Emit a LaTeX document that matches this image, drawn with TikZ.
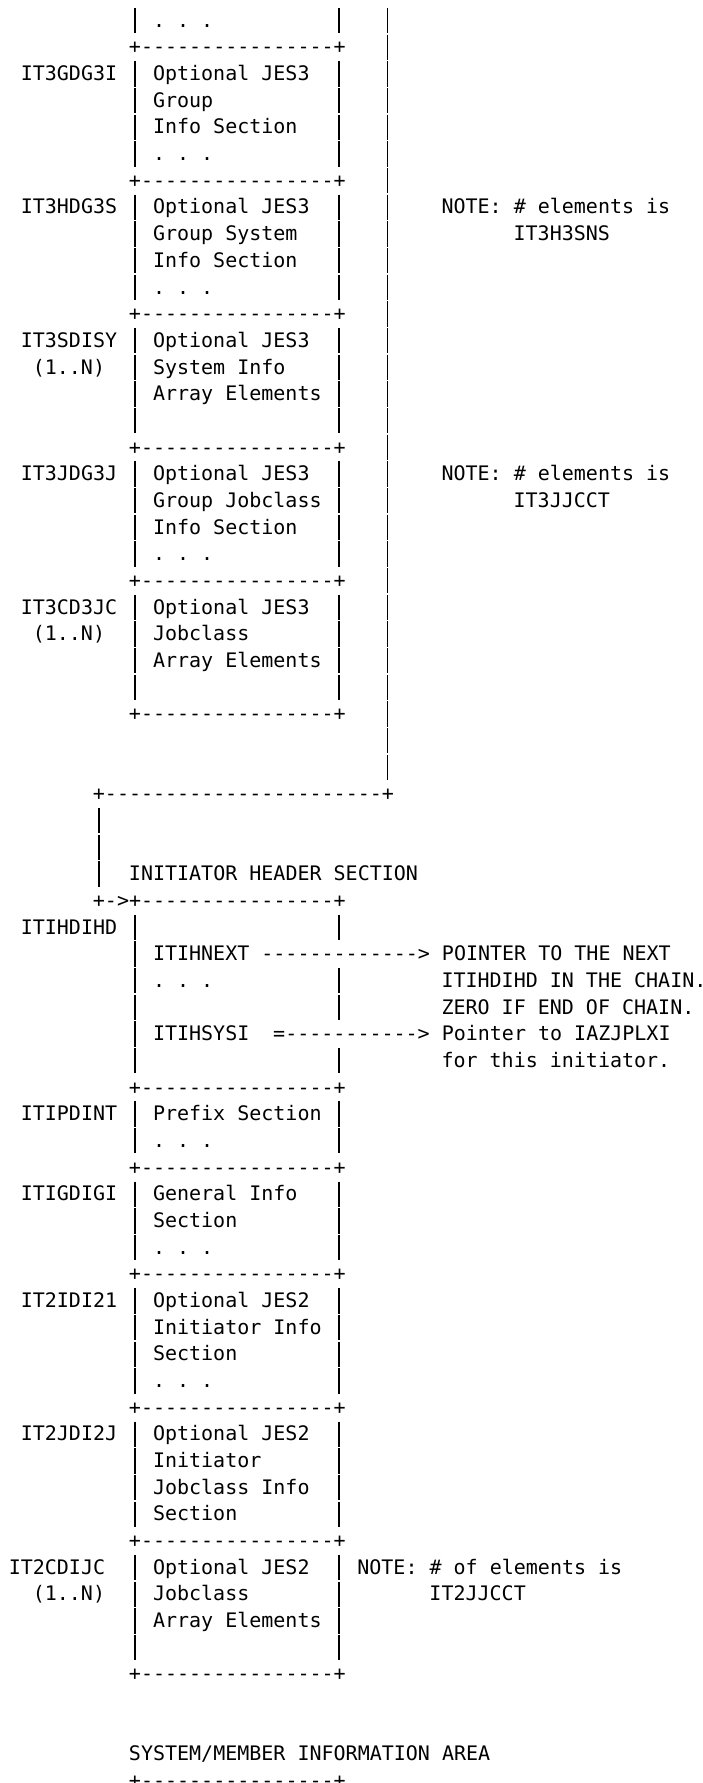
\documentclass[tikz,border=0pt]{standalone}
\usepackage{fontspec}
\setmonofont{DejaVu Sans Mono}
\usepackage{tikz}
\newcommand{\dashrun}[1]{\foreach \k in {1,...,#1}{-}}
\newcommand{\border}{+\dashrun{16}+}

\begin{document}
\begin{tikzpicture}[x=6.01pt,y=-13.335pt,
		txt/.style={anchor=base west,inner sep=0pt,outer sep=0pt,xshift=-3.005pt,yshift=-3.65pt,
			font=\ttfamily\fontsize{10pt}{12pt}\selectfont},
		bar/.style={line width=.85pt},
	]
		\useasboundingbox (-0.2313,-0.75) rectangle (58.172,66.104);

		% upper chain of JES3 sections
		\node[txt] (dots0) at (13,0) {. . .};
		\node[txt] (b1) at (11,1) {\border};
		\node[txt] (it3gdg3i) at (2,2) {IT3GDG3I};
		\node[txt] (g1) at (13,2) {Optional JES3};
		\node[txt] (g2) at (13,3) {Group};
		\node[txt] (g3) at (13,4) {Info Section};
		\node[txt] (g4) at (13,5) {. . .};
		\node[txt] (b6) at (11,6) {\border};
		\node[txt] (it3hdg3s) at (2,7) {IT3HDG3S};
		\node[txt] (h1) at (13,7) {Optional JES3};
		\node[txt] (h2) at (13,8) {Group System};
		\node[txt] (h3) at (13,9) {Info Section};
		\node[txt] (h4) at (13,10) {. . .};
		\node[txt] (hnote) at (37,7) {NOTE: \# elements is};
		\node[txt] (hcnt) at (43,8) {IT3H3SNS};
		\node[txt] (b11) at (11,11) {\border};
		\node[txt] (it3sdisy) at (2,12) {IT3SDISY};
		\node[txt] (sn) at (3,13) {(1..N)};
		\node[txt] (s1) at (13,12) {Optional JES3};
		\node[txt] (s2) at (13,13) {System Info};
		\node[txt] (s3) at (13,14) {Array Elements};
		\node[txt] (b16) at (11,16) {\border};
		\node[txt] (it3jdg3j) at (2,17) {IT3JDG3J};
		\node[txt] (j1) at (13,17) {Optional JES3};
		\node[txt] (j2) at (13,18) {Group Jobclass};
		\node[txt] (j3) at (13,19) {Info Section};
		\node[txt] (j4) at (13,20) {. . .};
		\node[txt] (jnote) at (37,17) {NOTE: \# elements is};
		\node[txt] (jcnt) at (43,18) {IT3JJCCT};
		\node[txt] (b21) at (11,21) {\border};
		\node[txt] (it3cd3jc) at (2,22) {IT3CD3JC};
		\node[txt] (cn) at (3,23) {(1..N)};
		\node[txt] (c1) at (13,22) {Optional JES3};
		\node[txt] (c2) at (13,23) {Jobclass};
		\node[txt] (c3) at (13,24) {Array Elements};
		\node[txt] (b26) at (11,26) {\border};

		% the way back to the initiator header
		\node[txt] (turn) at (8,29) {+\dashrun{23}+};
		\node[txt] (ihs) at (11,32) {INITIATOR HEADER SECTION};
		\node[txt] (b33) at (8,33) {+->\border};

		% initiator sections
		\node[txt] (itihdihd) at (2,34) {ITIHDIHD};
		\node[txt] (next) at (13,35) {ITIHNEXT \dashrun{13}> POINTER TO THE NEXT};
		\node[txt] (i1) at (13,36) {. . .};
		\node[txt] (next2) at (37,36) {ITIHDIHD IN THE CHAIN.};
		\node[txt] (next3) at (37,37) {ZERO IF END OF CHAIN.};
		\node[txt] (sysi) at (13,38) {ITIHSYSI};
		\node[txt] (sysiarr) at (23,38) {=\dashrun{11}> Pointer to IAZJPLXI};
		\node[txt] (sysi2) at (37,39) {for this initiator.};
		\node[txt] (b40) at (11,40) {\border};
		\node[txt] (itipdint) at (2,41) {ITIPDINT};
		\node[txt] (p1) at (13,41) {Prefix Section};
		\node[txt] (p2) at (13,42) {. . .};
		\node[txt] (b43) at (11,43) {\border};
		\node[txt] (itigdigi) at (2,44) {ITIGDIGI};
		\node[txt] (e1) at (13,44) {General Info};
		\node[txt] (e2) at (13,45) {Section};
		\node[txt] (e3) at (13,46) {. . .};
		\node[txt] (b47) at (11,47) {\border};
		\node[txt] (it2idi21) at (2,48) {IT2IDI21};
		\node[txt] (k1) at (13,48) {Optional JES2};
		\node[txt] (k2) at (13,49) {Initiator Info};
		\node[txt] (k3) at (13,50) {Section};
		\node[txt] (k4) at (13,51) {. . .};
		\node[txt] (b52) at (11,52) {\border};
		\node[txt] (it2jdi2j) at (2,53) {IT2JDI2J};
		\node[txt] (l1) at (13,53) {Optional JES2};
		\node[txt] (l2) at (13,54) {Initiator};
		\node[txt] (l3) at (13,55) {Jobclass Info};
		\node[txt] (l4) at (13,56) {Section};
		\node[txt] (b57) at (11,57) {\border};
		\node[txt] (it2cdijc) at (1,58) {IT2CDIJC};
		\node[txt] (mn) at (3,59) {(1..N)};
		\node[txt] (m1) at (13,58) {Optional JES2};
		\node[txt] (m2) at (13,59) {Jobclass};
		\node[txt] (m3) at (13,60) {Array Elements};
		\node[txt] (mnote) at (30,58) {NOTE: \# of elements is};
		\node[txt] (mcnt) at (36,59) {IT2JJCCT};
		\node[txt] (b62) at (11,62) {\border};

		\node[txt] (sysmem) at (11,65) {SYSTEM/MEMBER INFORMATION AREA};
		\node[txt] (b66) at (11,66) {\border};

		% box sides, one stroke per line
		\foreach \r in {0,2,3,4,5,7,8,9,10,12,13,14,15,17,18,19,20,22,23,24,25,
				34,36,37,39,41,42,44,45,46,48,49,50,51,53,54,55,56,58,59,60,61}
			\draw[bar] (11,\r) ++(0,-.45) -- ++(0,.95) (28,\r) ++(0,-.45) -- ++(0,.95);
		\foreach \r in {35,38}
			\draw[bar] (11,\r) ++(0,-.45) -- ++(0,.95);
		% chain lines
		\foreach \r in {0,...,28}
			\draw[bar] (32,\r) ++(0,-.45) -- ++(0,.95);
		\foreach \r in {30,31,32}
			\draw[bar] (8,\r) ++(0,-.45) -- ++(0,.95);
	\end{tikzpicture}
\end{document}
